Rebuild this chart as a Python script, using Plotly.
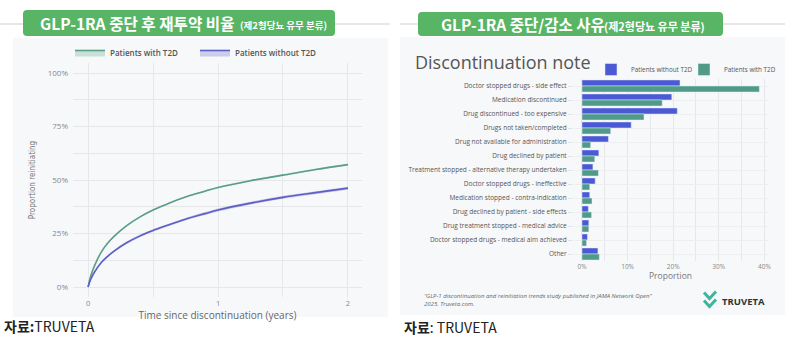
import plotly.graph_objects as go

# ---------------- data ----------------
# Reinitiation curves (cumulative proportion reinitiating GLP-1 RA)
years = [0, 0.02, 0.05, 0.1, 0.15, 0.2, 0.3, 0.4, 0.5, 0.6, 0.75, 0.9, 1.0, 1.25, 1.5, 1.75, 2.0]
with_t2d = [0, 0.05, 0.10, 0.162, 0.205, 0.237, 0.288, 0.328, 0.36, 0.386, 0.421, 0.448, 0.465, 0.497, 0.523, 0.549, 0.572]
without_t2d = [0, 0.035, 0.07, 0.113, 0.143, 0.168, 0.208, 0.239, 0.264, 0.286, 0.317, 0.343, 0.36, 0.392, 0.419, 0.441, 0.462]
with_t2d_ci = [0, 0.002, 0.002, 0.003, 0.003, 0.003, 0.003, 0.003, 0.003, 0.003, 0.003, 0.004, 0.004, 0.004, 0.004, 0.004, 0.004]
without_t2d_ci = [0, 0.003, 0.004, 0.005, 0.005, 0.005, 0.006, 0.006, 0.006, 0.006, 0.006, 0.007, 0.007, 0.007, 0.007, 0.007, 0.007]

# Discontinuation reasons
reasons = [
    "Doctor stopped drugs - side effect",
    "Medication discontinued",
    "Drug discontinued - too expensive",
    "Drugs not taken/completed",
    "Drug not available for administration",
    "Drug declined by patient",
    "Treatment stopped - alternative therapy undertaken",
    "Doctor stopped drugs - ineffective",
    "Medication stopped - contra-indication",
    "Drug declined by patient - side effects",
    "Drug treatment stopped - medical advice",
    "Doctor stopped drugs - medical aim achieved",
    "Other",
]
share_without_t2d = [0.215, 0.197, 0.209, 0.108, 0.058, 0.037, 0.024, 0.029, 0.017, 0.014, 0.015, 0.012, 0.035]
share_with_t2d = [0.389, 0.176, 0.136, 0.063, 0.019, 0.028, 0.036, 0.017, 0.022, 0.021, 0.015, 0.010, 0.038]

# ---------------- styling ----------------
W, H = 800, 337
GREEN_LINE = "#5a9e86"
BLUE_LINE = "#5c5fc4"
BAR_BLUE = "#4b5ad4"
BAR_GREEN = "#4f9a88"
BANNER = "#58b565"
PANEL_BG = "#f7f8fa"
GRID = "#e6e7eb"


def px(x):
    return x / W


def py(y):
    return 1 - y / H


def rounded_rect(x0, y0, x1, y1, r):
    rx, ry = r / W, r / H
    X0, X1 = px(x0), px(x1)
    Y0, Y1 = py(y0), py(y1)  # Y0 top, Y1 bottom in paper coords
    return (
        f"M {X0 + rx},{Y0} L {X1 - rx},{Y0} Q {X1},{Y0} {X1},{Y0 - ry} "
        f"L {X1},{Y1 + ry} Q {X1},{Y1} {X1 - rx},{Y1} "
        f"L {X0 + rx},{Y1} Q {X0},{Y1} {X0},{Y1 + ry} "
        f"L {X0},{Y0 - ry} Q {X0},{Y0} {X0 + rx},{Y0} Z"
    )


fig = go.Figure()

# ---------------- left: reinitiation curves ----------------
def add_curve(name, values, ci, color, fill, rank):
    upper = [v + c for v, c in zip(values, ci)]
    lower = [v - c for v, c in zip(values, ci)]
    fig.add_trace(go.Scatter(x=years, y=upper, mode="lines", line=dict(width=0, color=color),
                             line_shape="spline", showlegend=False, hoverinfo="skip",
                             xaxis="x", yaxis="y"))
    fig.add_trace(go.Scatter(x=years, y=values, mode="lines", name=name, line=dict(width=1.6, color=color),
                             fill="tonexty", fillcolor=fill, legend="legend", legendrank=rank,
                             line_shape="spline", xaxis="x", yaxis="y"))
    fig.add_trace(go.Scatter(x=years, y=lower, mode="lines", line=dict(width=0, color=color),
                             line_shape="spline", fill="tonexty", fillcolor=fill, showlegend=False,
                             hoverinfo="skip", xaxis="x", yaxis="y"))


add_curve("Patients with T2D", with_t2d, with_t2d_ci, GREEN_LINE, "rgba(90,158,134,0.28)", 1)
add_curve("Patients without T2D", without_t2d, without_t2d_ci, BLUE_LINE, "rgba(92,95,196,0.28)", 2)

# ---------------- right: discontinuation reasons ----------------
fig.add_trace(go.Bar(y=reasons, x=share_without_t2d, orientation="h", name="Patients without T2D",
                     marker_color=BAR_BLUE, legend="legend2", xaxis="x2", yaxis="y2"))
fig.add_trace(go.Bar(y=reasons, x=share_with_t2d, orientation="h", name="Patients with T2D",
                     marker_color=BAR_GREEN, legend="legend2", xaxis="x2", yaxis="y2"))

tick_font = dict(family="Open Sans", size=8, color="#888")

fig.update_layout(
    width=W, height=H,
    margin=dict(l=0, r=0, t=0, b=0, autoexpand=False),
    paper_bgcolor="white",
    plot_bgcolor="rgba(0,0,0,0)",
    barmode="group",
    bargap=0.14,
    bargroupgap=0.0,
    xaxis=dict(domain=[px(73), px(362)], range=[-0.116, 2.108], tickvals=[0, 1, 2],
               ticktext=["0", "1", "2"], showgrid=True, gridcolor=GRID, gridwidth=1,
               minor=dict(dtick=0.5, showgrid=True, gridcolor=GRID), zeroline=False,
               showline=False, anchor="y", automargin=False,
               tickfont=dict(family="Open Sans", size=7.5, color="#888"),
               title=dict(text="Time since discontinuation (years)", standoff=1,
                          font=dict(family="Open Sans", size=10, color="#666"))),
    yaxis=dict(domain=[py(297), py(63)], range=[-0.0467, 1.047], tickvals=[0, 0.25, 0.5, 0.75, 1.0],
               tickformat=".0%", showgrid=True, gridcolor=GRID,
               minor=dict(tickvals=[0.125, 0.375, 0.625, 0.875], showgrid=True, gridcolor=GRID),
               zeroline=False, showline=False, anchor="x", automargin=False,
               tickfont=tick_font, ticklabelstandoff=4,
               title=dict(text="Proportion reinitiating", standoff=10,
                          font=dict(family="Liberation Sans Narrow, DejaVu Sans Condensed, Roboto",
                                    size=8, color="#777"))),
    xaxis2=dict(domain=[px(573), px(768)], range=[-0.0197, 0.408], tickvals=[0, 0.1, 0.2, 0.3, 0.4],
                tickformat=".0%", showgrid=True, gridcolor=GRID,
                minor=dict(tickvals=[0.05, 0.15, 0.25, 0.35], showgrid=True, gridcolor=GRID),
                zeroline=False, showline=False, anchor="y2", automargin=False,
                tickfont=dict(family="Open Sans", size=6.5, color="#888"),
                title=dict(text="Proportion", standoff=3,
                           font=dict(family="Open Sans", size=8.5, color="#777"))),
    yaxis2=dict(domain=[py(261), py(79)], autorange="reversed", showgrid=True, gridcolor="#eeeef1",
                ticks="outside", ticklen=4, tickcolor="#e2e2e6", showline=False,
                anchor="x2", automargin=False,
                tickfont=dict(family="Open Sans", size=6.5, color="#555")),
    legend=dict(orientation="h", x=px(70), y=py(38), xanchor="left", yanchor="top",
                bgcolor="rgba(0,0,0,0)", itemwidth=30, traceorder="normal",
                entrywidth=80, entrywidthmode="pixels",
                font=dict(family="Open Sans", size=8, color="#555", weight=600)),
    legend2=dict(orientation="h", x=px(591), y=py(55), xanchor="left", yanchor="top",
                 bgcolor="rgba(0,0,0,0)", itemwidth=30, traceorder="normal",
                 entrywidth=48, entrywidthmode="pixels",
                 font=dict(family="Open Sans", size=6.3, color="#555")),
)

shapes = []
# panel backgrounds
shapes.append(dict(type="rect", xref="paper", yref="paper", x0=px(13), x1=px(388), y0=py(317), y1=py(38),
                   fillcolor=PANEL_BG, line_width=0, layer="below"))
shapes.append(dict(type="rect", xref="paper", yref="paper", x0=px(400), x1=px(785), y0=py(315), y1=py(37),
                   fillcolor=PANEL_BG, line_width=0, layer="below"))
# header rules behind the banners
shapes.append(dict(type="line", xref="paper", yref="paper", x0=0, x1=px(390), y0=py(24), y1=py(24),
                   line=dict(color="#cfcfcf", width=1)))
shapes.append(dict(type="line", xref="paper", yref="paper", x0=px(400), x1=px(785), y0=py(24), y1=py(24),
                   line=dict(color="#cfcfcf", width=1)))
# green title banners
shapes.append(dict(type="path", xref="paper", yref="paper", path=rounded_rect(23, 10, 335, 36, 4),
                   fillcolor=BANNER, line_width=0))
shapes.append(dict(type="path", xref="paper", yref="paper", path=rounded_rect(418, 12, 723, 36, 4),
                   fillcolor=BANNER, line_width=0))
# logo mark: two stacked chevrons
for top in (292.5, 300.5):
    shapes.append(dict(type="path", xref="paper", yref="paper",
                       path=f"M {px(704)},{py(top)} L {px(709.5)},{py(top + 6)} L {px(716)},{py(top - 1)}",
                       line=dict(color="#3db59f", width=3)))
fig.update_layout(shapes=shapes)

cjk = "Noto Sans CJK KR"
annotations = [
    # banner titles: main text + smaller qualifier
    dict(text="<b>GLP-1RA 중단 후 재투약 비율</b>", x=px(38), y=py(23), xanchor="left",
         font=dict(family=cjk, size=15.6, color="white")),
    dict(text="<b>(제2형당뇨 유무 분류)</b>", x=px(238), y=py(25), xanchor="left",
         font=dict(family=cjk, size=9.5, color="white")),
    dict(text="<b>GLP-1RA 중단/감소 사유</b>", x=px(439), y=py(24), xanchor="left",
         font=dict(family=cjk, size=15.5, color="white")),
    dict(text="<b>(제2형당뇨 유무 분류)</b>", x=px(602), y=py(25.5), xanchor="left",
         font=dict(family=cjk, size=11, color="white")),
    dict(text="Discontinuation note", x=px(413), y=py(62), xanchor="left",
         font=dict(family="Open Sans", size=18, color="#555")),
    dict(text="“GLP-1 discontinuation and reinitiation trends study published in JAMA Network Open”<br>2025. Truveta.com.",
         x=px(422), y=py(300), xanchor="left", align="left",
         font=dict(family="Open Sans", size=6, color="#666", style="italic")),
    dict(text="<b>TRUVETA</b>", x=px(720), y=py(301), xanchor="left",
         font=dict(family="Open Sans", size=9.5, color="#2e3436")),
    dict(text="<b>자료:</b>TRUVETA", x=px(2), y=py(326), xanchor="left",
         font=dict(family=cjk, size=14, color="#222")),
    dict(text="<b>자료</b>: TRUVETA", x=px(402), y=py(327), xanchor="left",
         font=dict(family=cjk, size=14, color="#222")),
]
for a in annotations:
    a.update(xref="paper", yref="paper", showarrow=False, yanchor=a.get("yanchor", "middle"))
fig.update_layout(annotations=annotations)

fig.write_html("out.html")
